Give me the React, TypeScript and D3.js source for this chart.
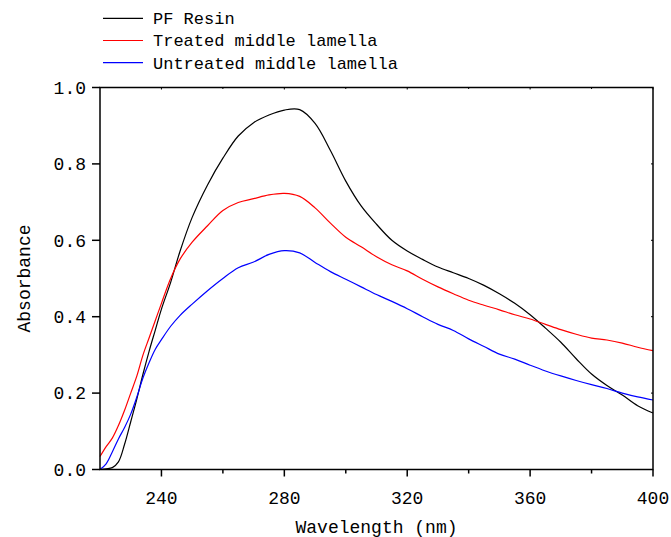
import React from "react";
import * as d3 from "d3";

const wavelengths = [220, 222, 224, 226, 228, 230, 232, 234, 236, 238, 240, 243, 246, 250, 255, 260, 265, 270, 275, 280, 285, 290, 295, 300, 305, 310, 315, 320, 325, 330, 335, 340, 345, 350, 355, 360, 365, 370, 375, 380, 385, 390, 395, 400];

const pfResin = [0.0, 0.002, 0.005, 0.02, 0.066, 0.125, 0.185, 0.25, 0.31, 0.365, 0.42, 0.49, 0.57, 0.66, 0.745, 0.815, 0.873, 0.908, 0.928, 0.941, 0.942, 0.906, 0.835, 0.755, 0.69, 0.642, 0.6, 0.572, 0.55, 0.53, 0.515, 0.5, 0.482, 0.46, 0.435, 0.405, 0.37, 0.333, 0.29, 0.25, 0.22, 0.195, 0.167, 0.148];

const treated = [0.034, 0.06, 0.082, 0.115, 0.155, 0.2, 0.245, 0.3, 0.345, 0.39, 0.435, 0.5, 0.55, 0.595, 0.638, 0.678, 0.699, 0.709, 0.719, 0.723, 0.715, 0.685, 0.645, 0.608, 0.583, 0.557, 0.536, 0.52, 0.498, 0.478, 0.46, 0.443, 0.43, 0.418, 0.405, 0.394, 0.38, 0.366, 0.354, 0.344, 0.339, 0.331, 0.32, 0.311];

const untreated = [0.0, 0.015, 0.046, 0.08, 0.11, 0.145, 0.19, 0.24, 0.28, 0.315, 0.34, 0.375, 0.403, 0.433, 0.468, 0.5, 0.528, 0.543, 0.563, 0.573, 0.567, 0.542, 0.518, 0.498, 0.478, 0.458, 0.44, 0.421, 0.4, 0.38, 0.364, 0.342, 0.322, 0.302, 0.289, 0.273, 0.258, 0.245, 0.233, 0.222, 0.212, 0.2, 0.19, 0.182];

const seriesNames = ["PF Resin", "Treated middle lamella", "Untreated middle lamella"];
const seriesColors = ["#000000", "#ff0000", "#0000ff"];
const seriesValues = [pfResin, treated, untreated];

const xTicks = [240, 280, 320, 360, 400];
const xMinorTicks = [260, 300, 340, 380];
const yTicks = [0, 0.2, 0.4, 0.6, 0.8, 1.0];

const W = 671;
const H = 537;
const FONT = "'Liberation Mono', 'DejaVu Sans Mono', monospace";

export default function App() {
  const left = 100, right = 653, top = 87.5, bottom = 469.5;
  const x = d3.scaleLinear().domain([220, 400]).range([left, right]);
  const y = d3.scaleLinear().domain([0, 1]).range([bottom, top]);
  const line = d3
    .line<number>()
    .x((_, i) => x(wavelengths[i]))
    .y((d) => y(d))
    .curve(d3.curveCatmullRom.alpha(0.5));

  return (
    <svg width={W} height={H} style={{ position: "absolute", left: 0, top: 0, background: "#fff" }} fontFamily={FONT}>
      <rect x={0} y={0} width={W} height={H} fill="#fff" />
      {seriesValues.map((vals, k) => (
        <path key={k} d={line(vals) || ""} fill="none" stroke={seriesColors[k]} strokeWidth={1.2} />
      ))}
      <rect x={left} y={top} width={right - left} height={bottom - top} fill="none" stroke="#000" strokeWidth={1.5} />
      {xTicks.map((t) => (
        <g key={"xt" + t}>
          <line x1={x(t)} x2={x(t)} y1={bottom} y2={bottom + 7} stroke="#000" strokeWidth={1.5} />
          <line x1={x(t)} x2={x(t)} y1={top} y2={top + 2} stroke="#000" strokeWidth={1} />
          <text x={x(t)} y={504} textAnchor="middle" fontSize={18} fill="#000">{t}</text>
        </g>
      ))}
      {xMinorTicks.map((t) => (
        <g key={"xm" + t}>
          <line x1={x(t)} x2={x(t)} y1={bottom} y2={bottom + 4} stroke="#000" strokeWidth={1.5} />
          <line x1={x(t)} x2={x(t)} y1={top} y2={top + 1.5} stroke="#000" strokeWidth={1} />
        </g>
      ))}
      {yTicks.map((t) => (
        <g key={"yt" + t}>
          <line x1={left - 8} x2={left} y1={y(t)} y2={y(t)} stroke="#000" strokeWidth={1.5} />
          <line x1={right - 2} x2={right} y1={y(t)} y2={y(t)} stroke="#000" strokeWidth={1} />
          <text x={86} y={y(t)} dy="0.35em" textAnchor="end" fontSize={18} fill="#000">{t.toFixed(1)}</text>
        </g>
      ))}
      <text x={(left + right) / 2} y={533} textAnchor="middle" fontSize={18} fill="#000">Wavelength (nm)</text>
      <text transform={`translate(30, ${(top + bottom) / 2}) rotate(-90)`} textAnchor="middle" fontSize={18} fill="#000">Absorbance</text>
      {seriesNames.map((name, k) => {
        const ly = 18.3 + k * 22.2;
        return (
          <g key={"lg" + k}>
            <line x1={103} x2={143} y1={ly} y2={ly} stroke={seriesColors[k]} strokeWidth={1.2} />
            <text x={153} y={ly} dy="0.35em" fontSize={17} fill="#000">{name}</text>
          </g>
        );
      })}
    </svg>
  );
}
